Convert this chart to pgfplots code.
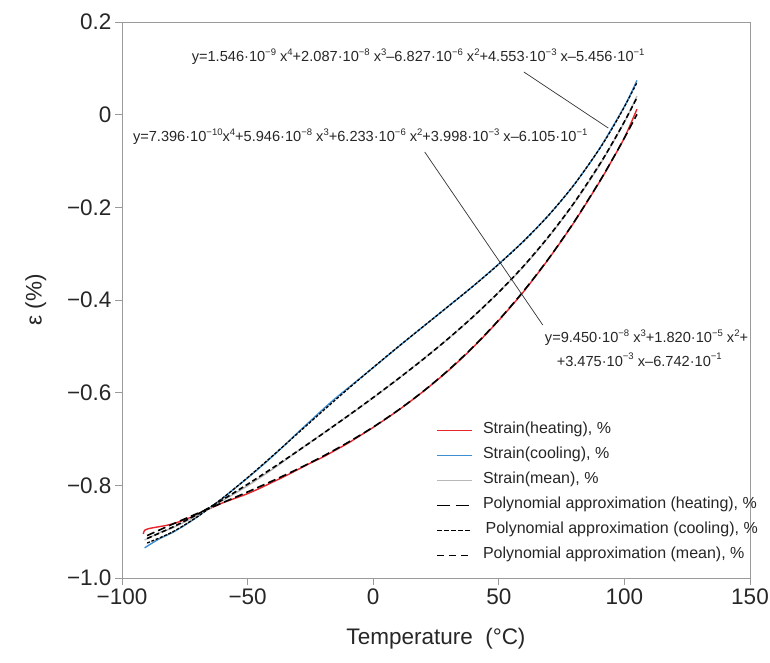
\documentclass[border=0pt]{standalone}
\usepackage{fontspec}
\setmainfont{Liberation Sans}
\usepackage{pgfplots}
\pgfplotsset{compat=1.18}
\newcommand\tp[1]{\raisebox{0.42em}{\fontsize{9.5}{10}\selectfont #1}}
\definecolor{cred}{HTML}{E8262D}
\definecolor{cblue}{HTML}{3D8FD1}
\definecolor{cgray}{HTML}{B8B8B8}
\definecolor{caxis}{HTML}{9A9A9A}
\definecolor{clead}{HTML}{333333}
\begin{document}
\begin{tikzpicture}[x=1pt,y=1pt]
\path[use as bounding box] (0,0) rectangle (770,662);
\begin{axis}[
  at={(122pt,84pt)}, anchor=south west,
  scale only axis, width=628pt, height=556pt,
  xmin=-100, xmax=150, ymin=-1, ymax=0.2,
  xtick={-100,-50,0,50,100,150},
  xticklabels={−100,−50,0,50,100,150},
  ytick={-1,-0.8,-0.6,-0.4,-0.2,0,0.2},
  yticklabels={−1.0,−0.8,−0.6,−0.4,−0.2,0,0.2},
  xtick pos=lower, ytick pos=left,
  tick align=outside, major tick length=7pt,
  axis line style={caxis, line width=0.8pt},
  tick style={caxis, line width=0.8pt},
  tick label style={font=\fontsize{22.5}{26}\selectfont, black!85},
  label style={font=\fontsize{22.5}{26}\selectfont, black!85},
  xlabel={Temperature~~(°C)},
  xlabel style={yshift=-17pt},
  ylabel={ε (\%)},
  ylabel style={yshift=14pt},
  legend cell align=left,
  legend style={at={(rel axis cs:0.50,0.281)}, anchor=north west, draw=none, fill=none,
    font=\fontsize{16}{19}\selectfont, inner sep=0pt, row sep=8pt,
    nodes={inner sep=0pt, text height=12pt, text depth=5pt, text=black!85},
    /tikz/every odd column/.append style={column sep=10pt}},
]
% raw strain (heating)
\addplot[cred, line width=1.4pt, smooth,
  legend image code/.code={\draw[cred, line width=1.8pt] (0pt,0pt) -- (35pt,0pt);}] coordinates {
(-91.5,-0.905) (-91,-0.897) (-89,-0.893) (-86,-0.890) (-82,-0.886) (-78,-0.880)
(-74,-0.872) (-70,-0.863) (-65,-0.850) (-60,-0.838) (-55,-0.828) (-50,-0.818)
(-45,-0.806) (-40,-0.793) (-35,-0.780) (-30,-0.766) (-25,-0.752) (-20,-0.739)
(-15,-0.724) (-10,-0.709) (-5,-0.692) (0,-0.675) (10,-0.638) (20,-0.597)
(30,-0.552) (40,-0.501) (50,-0.444) (60,-0.381) (70,-0.310) (80,-0.232)
(90,-0.146) (95,-0.099) (100,-0.050) (105,0.012)};
\addlegendentry{Strain(heating), \%}
% raw strain (cooling)
\addplot[cblue, line width=1.4pt, smooth,
  legend image code/.code={\draw[cblue, line width=1.8pt] (0pt,0pt) -- (35pt,0pt);}] coordinates {
(-91,-0.935) (-89,-0.928) (-85,-0.915) (-80,-0.902) (-75,-0.886) (-70,-0.868)
(-65,-0.848) (-60,-0.828) (-55,-0.806) (-50,-0.784) (-45,-0.761) (-40,-0.737)
(-35,-0.712) (-30,-0.686) (-25,-0.661) (-20,-0.636) (-15,-0.612) (-10,-0.590)
(-5,-0.568) (0,-0.546) (10,-0.501) (20,-0.457) (30,-0.413) (40,-0.369)
(50,-0.322) (60,-0.272) (70,-0.216) (80,-0.151) (90,-0.074) (100,0.018) (105,0.074)};
\addlegendentry{Strain(cooling), \%}
% raw strain (mean)
\addplot[cgray, line width=1.4pt, smooth,
  legend image code/.code={\draw[cgray, line width=1.6pt] (0pt,0pt) -- (35pt,0pt);}] coordinates {
(-91,-0.918) (-85,-0.902) (-80,-0.892) (-70,-0.865) (-60,-0.833) (-50,-0.801)
(-40,-0.765) (-30,-0.726) (-20,-0.688) (-10,-0.650) (0,-0.611) (10,-0.570)
(20,-0.527) (30,-0.483) (40,-0.435) (50,-0.383) (60,-0.327) (70,-0.263)
(80,-0.191) (90,-0.110) (100,-0.016) (105,0.040)};
\addlegendentry{Strain(mean), \%}
% polynomial fit (heating)
\addplot[black, line width=1.6pt, smooth, dash pattern=on 8pt off 4pt,
  legend image code/.code={\draw[black, line width=1.6pt, dash pattern=on 13pt off 6pt] (0pt,0pt) -- (35pt,0pt);}] coordinates {
(-90,-0.9084) (-80,-0.8841) (-70,-0.8607) (-60,-0.8376) (-50,-0.8143) (-40,-0.7901)
(-30,-0.7646) (-20,-0.7372) (-10,-0.7072) (0,-0.6742) (10,-0.6375) (20,-0.5967)
(30,-0.5510) (40,-0.5000) (50,-0.4431) (60,-0.3798) (70,-0.3094) (80,-0.2313)
(90,-0.1451) (95,-0.0988) (100,-0.0502) (105,0.0007)};
\addlegendentry{Polynomial approximation (heating), \%}
% polynomial fit (cooling)
\addplot[black, line width=1.3pt, smooth, dash pattern=on 3pt off 1.6pt,
  legend image code/.code={\draw[black, line width=1.2pt, dash pattern=on 4.5pt off 2.5pt] (0pt,0pt) -- (35pt,0pt);}] coordinates {
(-90,-0.9245) (-80,-0.9009) (-70,-0.8678) (-60,-0.8278) (-50,-0.7833) (-40,-0.7360)
(-30,-0.6876) (-20,-0.6393) (-10,-0.5918) (0,-0.5456) (10,-0.5007) (20,-0.4569)
(30,-0.4133) (40,-0.3691) (50,-0.3227) (60,-0.2725) (70,-0.2161) (80,-0.1510)
(90,-0.0745) (95,-0.0309) (100,0.0169) (105,0.0693)};
\addlegendentry{\,Polynomial approximation (cooling), \%}
% polynomial fit (mean)
\addplot[black, line width=1.6pt, smooth, dash pattern=on 5pt off 3pt,
  legend image code/.code={\draw[black, line width=1.6pt, dash pattern=on 7pt off 5pt] (0pt,0pt) -- (35pt,0pt);}] coordinates {
(-90,-0.9147) (-80,-0.8906) (-70,-0.8625) (-60,-0.8312) (-50,-0.7976) (-40,-0.7624)
(-30,-0.7258) (-20,-0.6883) (-10,-0.6499) (0,-0.6105) (10,-0.5698) (20,-0.5275)
(30,-0.4827) (40,-0.4349) (50,-0.3830) (60,-0.3258) (70,-0.2619) (80,-0.1900)
(90,-0.1083) (95,-0.0632) (100,-0.0150) (105,0.0367)};
\addlegendentry{Polynomial approximation (mean), \%}
% annotations
\draw[clead, line width=0.7pt] (axis cs:60,0.092) -- (axis cs:93.6,-0.029);
\draw[clead, line width=0.7pt] (axis cs:20.5,-0.0805) -- (axis cs:67.5,-0.454);
\node[anchor=west, inner sep=0pt, font=\fontsize{14.6}{16}\selectfont, black!85] at (axis cs:-72.3,0.1245)
  {y=1.546·10\tp{−9} x\tp{4}+2.087·10\tp{−8} x\tp{3}–6.827·10\tp{−6} x\tp{2}+4.553·10\tp{−3} x–5.456·10\tp{−1}};
\node[anchor=west, inner sep=0pt, font=\fontsize{14.6}{16}\selectfont, black!85] at (axis cs:-95.7,-0.048)
  {y=7.396·10\tp{−10}x\tp{4}+5.946·10\tp{−8} x\tp{3}+6.233·10\tp{−6} x\tp{2}+3.998·10\tp{−3} x–6.105·10\tp{−1}};
\node[anchor=west, inner sep=0pt, font=\fontsize{14.6}{16}\selectfont, black!85] at (axis cs:68.3,-0.482)
  {y=9.450·10\tp{−8} x\tp{3}+1.820·10\tp{−5} x\tp{2}+};
\node[anchor=west, inner sep=0pt, font=\fontsize{14.6}{16}\selectfont, black!85] at (axis cs:73.0,-0.529)
  {+3.475·10\tp{−3} x–6.742·10\tp{−1}};
\end{axis}
\end{tikzpicture}
\end{document}
